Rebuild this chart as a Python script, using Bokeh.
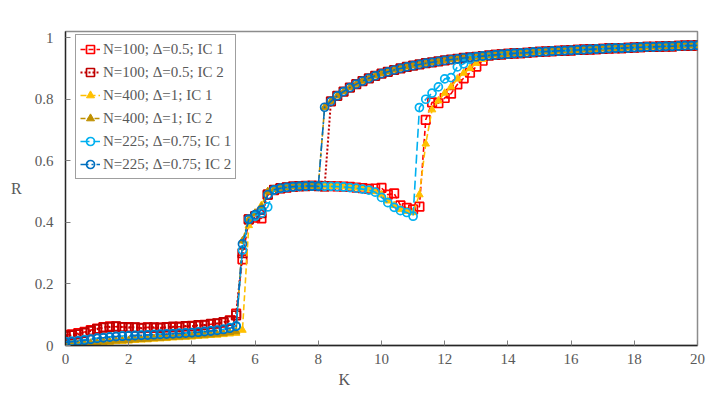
from bokeh.plotting import figure
from bokeh.models import Range1d, FixedTicker, Title
from bokeh.embed import file_html
from bokeh.resources import INLINE

# ---------------- data ----------------
K = [round(0.2 * i, 1) for i in range(101)]          # K = 0, 0.2, ..., 20

x_ticks = [0, 2, 4, 6, 8, 10, 12, 14, 16, 18, 20]
y_ticks = [0, 0.2, 0.4, 0.6, 0.8, 1.0]
y_tick_labels = ["0", "0.2", "0.4", "0.6", "0.8", "1"]
x_title = "K"
y_title = "R"

# upper (synchronised) branch, K = 8.2 ... 20
upper = [0.774, 0.793, 0.811, 0.825, 0.838, 0.849, 0.859, 0.868, 0.876, 0.883,
         0.889, 0.895, 0.900, 0.905, 0.909, 0.913, 0.917, 0.920, 0.923, 0.926,
         0.929, 0.931, 0.934, 0.936, 0.938, 0.940, 0.942, 0.944, 0.946, 0.947,
         0.949, 0.950, 0.951, 0.953, 0.954, 0.955, 0.956, 0.957, 0.958, 0.959,
         0.960, 0.961, 0.962, 0.963, 0.964, 0.965, 0.966, 0.966, 0.967, 0.968,
         0.969, 0.970, 0.970, 0.971, 0.972, 0.972, 0.973, 0.974, 0.974, 0.975]

# low branch, K = 0 ... 5.4
red1_low = [0.035, 0.036, 0.040, 0.044, 0.050, 0.055, 0.060, 0.062, 0.061, 0.060,
            0.060, 0.058, 0.057, 0.059, 0.057, 0.058, 0.060, 0.059, 0.061, 0.062,
            0.064, 0.064, 0.067, 0.069, 0.071, 0.074, 0.082, 0.104]
red2_low = [0.030, 0.033, 0.036, 0.041, 0.047, 0.053, 0.058, 0.060, 0.062, 0.060,
            0.058, 0.059, 0.056, 0.058, 0.059, 0.057, 0.059, 0.061, 0.060, 0.063,
            0.062, 0.066, 0.066, 0.070, 0.072, 0.076, 0.080, 0.098]
yel1_low = [0.001, 0.002, 0.003, 0.004, 0.006, 0.008, 0.010, 0.011, 0.013, 0.014,
            0.015, 0.017, 0.018, 0.019, 0.021, 0.022, 0.023, 0.025, 0.026, 0.027,
            0.028, 0.030, 0.031, 0.033, 0.034, 0.036, 0.038, 0.040]
gold2_low = [0.002, 0.003, 0.004, 0.006, 0.008, 0.010, 0.012, 0.013, 0.015, 0.016,
             0.017, 0.019, 0.020, 0.021, 0.023, 0.024, 0.025, 0.027, 0.028, 0.029,
             0.031, 0.032, 0.034, 0.035, 0.037, 0.039, 0.042, 0.045]
blue1_low = [0.013, 0.014, 0.016, 0.019, 0.021, 0.024, 0.026, 0.028, 0.030, 0.031,
             0.032, 0.033, 0.034, 0.035, 0.036, 0.037, 0.038, 0.039, 0.040, 0.041,
             0.042, 0.044, 0.046, 0.048, 0.050, 0.053, 0.058, 0.064]
blue2_low = [0.010, 0.012, 0.014, 0.017, 0.020, 0.023, 0.025, 0.027, 0.029, 0.030,
             0.031, 0.032, 0.033, 0.034, 0.035, 0.036, 0.037, 0.038, 0.039, 0.040,
             0.042, 0.043, 0.045, 0.047, 0.049, 0.052, 0.056, 0.062]

# transition + plateau, K = 5.6 ... 8.0
red1_mid = [0.280, 0.410, 0.415, 0.413, 0.490, 0.505, 0.510, 0.513, 0.516, 0.518, 0.519, 0.519, 0.519]
red2_mid = [0.300, 0.410, 0.420, 0.430, 0.490, 0.506, 0.511, 0.514, 0.516, 0.518, 0.518, 0.519, 0.518]
yel1_mid = [0.050, 0.390, 0.430, 0.455, 0.500, 0.508, 0.512, 0.514, 0.516, 0.517, 0.518, 0.518, 0.518]
gold2_mid = [0.340, 0.410, 0.430, 0.450, 0.500, 0.507, 0.511, 0.514, 0.516, 0.517, 0.518, 0.518, 0.517]
blue1_mid = [0.310, 0.410, 0.420, 0.430, 0.450, 0.505, 0.510, 0.513, 0.515, 0.517, 0.518, 0.518, 0.518]
blue2_mid = [0.330, 0.410, 0.425, 0.440, 0.490, 0.506, 0.511, 0.514, 0.516, 0.517, 0.518, 0.518, 0.517]

# IC 1 plateau / dip after K = 8.0, and the late rise
red1_dip = [0.518, 0.518, 0.517, 0.516, 0.515, 0.513, 0.511, 0.509, 0.510, 0.512,
            0.490, 0.494, 0.455, 0.447, 0.442, 0.451]                 # K 8.2 .. 11.2
red1_rise = [0.733, 0.790, 0.787, 0.804, 0.818, 0.848, 0.868, 0.886, 0.906, 0.925]  # K 11.4 .. 13.2
yel1_dip = [0.518, 0.517, 0.517, 0.516, 0.514, 0.512, 0.510, 0.507, 0.500, 0.490,
            0.470, 0.455, 0.442, 0.436, 0.432]                        # K 8.2 .. 11.0
yel1_rise = [0.490, 0.655, 0.766, 0.795, 0.820, 0.840, 0.866, 0.885, 0.900, 0.917, 0.930]  # K 11.2 .. 13.2
blue1_dip = [0.517, 0.517, 0.516, 0.515, 0.513, 0.511, 0.508, 0.505, 0.498, 0.481,
             0.464, 0.449, 0.438, 0.432, 0.420]                       # K 8.2 .. 11.0
blue1_rise = [0.773, 0.800, 0.820, 0.840, 0.866, 0.870, 0.905, 0.915, 0.930]  # K 11.2 .. 12.8
red2_k82 = [0.517]

R_red1 = red1_low + red1_mid + red1_dip + red1_rise + upper[26:]
R_red2 = red2_low + red2_mid + red2_k82 + upper[1:]
R_yel1 = yel1_low + yel1_mid + yel1_dip + yel1_rise + upper[26:]
R_gold2 = gold2_low + gold2_mid + upper
R_blue1 = blue1_low + blue1_mid + blue1_dip + blue1_rise + upper[24:]
R_blue2 = blue2_low + blue2_mid + upper

labels = ["N=100; \u0394=0.5; IC 1", "N=100; \u0394=0.5; IC 2",
          "N=400; \u0394=1; IC 1", "N=400; \u0394=1; IC 2",
          "N=225; \u0394=0.75; IC 1", "N=225; \u0394=0.75; IC 2"]
series = [R_red1, R_red2, R_yel1, R_gold2, R_blue1, R_blue2]
colors = ["#FF0000", "#C00000", "#FFC000", "#BF9000", "#00B0F0", "#0070C0"]
markers = ["square", "square", "triangle", "triangle", "circle", "circle"]
dashes = ["5 3", "2 2", "6 3", "5 2", "9 4", "8 3 2 3"]
widths = [1.6, 2.0, 1.6, 1.6, 1.6, 1.6]

for s in series:
    assert len(s) == len(K), len(s)

# ---------------- figure ----------------
FONT = "Liberation Serif"
GREY = "#595959"

p = figure(width=706, height=395, output_backend="svg", toolbar_location=None,
           x_range=Range1d(0, 20), y_range=Range1d(0, 1.02),
           min_border_left=65, min_border_right=9, min_border_top=31, min_border_bottom=50)

p.xgrid.visible = False
p.ygrid.visible = False
p.outline_line_color = "#8c8c8c"
p.outline_line_width = 1.5

for s, c, m, d, w, lab in zip(series, colors, markers, dashes, widths, labels):
    p.line(K, s, line_color=c, line_width=w, line_dash=d, legend_label=lab)
    if m == "triangle":
        p.scatter(K, s, marker=m, size=7.5, fill_color=c, line_color=c, line_width=1,
                  legend_label=lab)
    else:
        p.scatter(K, s, marker=m, size=8.5 if m == "square" else 8, fill_color=None,
                  line_color=c, line_width=1.7, legend_label=lab)

p.xaxis.ticker = FixedTicker(ticks=x_ticks)
p.yaxis.ticker = FixedTicker(ticks=y_ticks)
p.yaxis.major_label_overrides = {t: l for t, l in zip(y_ticks, y_tick_labels)}

for ax in (p.xaxis[0], p.yaxis[0]):
    ax.axis_line_color = "#262626"
    ax.axis_line_width = 1.3
    ax.major_tick_in = 5
    ax.major_tick_out = 0
    ax.major_tick_line_color = "#7f7f7f"
    ax.minor_tick_line_color = None
    ax.major_label_text_font = FONT
    ax.major_label_text_font_size = "15px"
    ax.major_label_text_color = GREY

p.xaxis.major_label_standoff = 8
p.yaxis.major_label_standoff = 12

# y title: upright "R"
p.yaxis.axis_label = y_title
p.yaxis.axis_label_text_font = FONT
p.yaxis.axis_label_text_font_size = "16px"
p.yaxis.axis_label_text_font_style = "normal"
p.yaxis.axis_label_text_color = GREY
p.yaxis.axis_label_standoff = 10
try:
    p.yaxis.axis_label_orientation = "horizontal"
except Exception:
    pass

# x title: "K", slightly left of the plot centre (Excel style)
p.add_layout(Title(text=x_title, align="left", offset=273, text_font=FONT,
                   text_font_size="16px", text_font_style="normal",
                   text_color=GREY, standoff=5), "below")

lg = p.legend[0]
lg.location = (10, 166)
lg.label_text_font = FONT
lg.label_text_font_size = "15px"
lg.label_text_color = GREY
lg.border_line_color = "#404040"
lg.border_line_width = 1
lg.background_fill_alpha = 1
lg.padding = 4
lg.spacing = 3
lg.margin = 0
lg.label_height = 20
lg.glyph_height = 20
lg.glyph_width = 20
lg.label_standoff = 3

open("out.html", "w").write(file_html(p, INLINE))
